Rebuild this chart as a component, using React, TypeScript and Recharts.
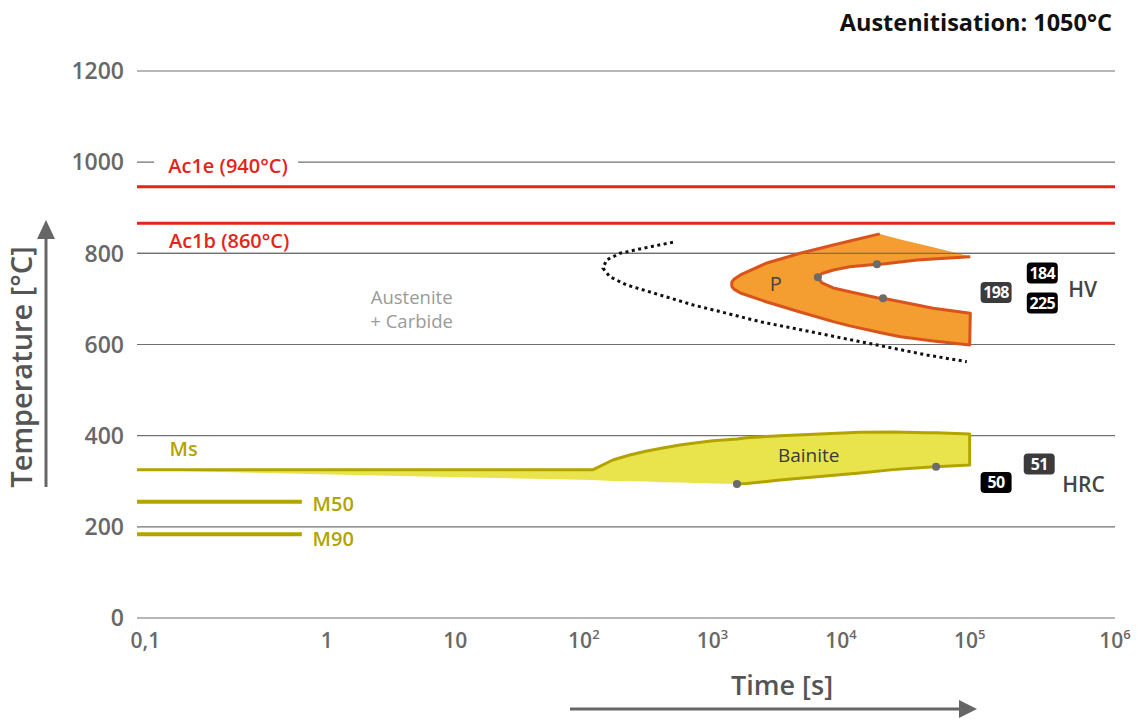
import React from 'react'
import {
  ComposedChart,
  XAxis,
  YAxis,
  CartesianGrid,
  Area,
  Line,
  Scatter,
  ReferenceLine,
} from 'recharts'

const FONT = '"Open Sans", "Noto Sans", sans-serif'

const RED = '#e3251b'
const OLIVE = '#b3a300'
const YELLOW = '#e9e44b'
const ORANGE = '#f49d30'
const ORANGE_EDGE = '#d8541c'
const GRID = '#707070'
const DOT = '#6b6b6b'
const TICK = '#686868'

// time axis is logarithmic, but the first decade (0,1-1) and the last one (10^5-10^6) are drawn wider
function toU(t: number) {
  const l = Math.log10(t)
  if (l < 0) return l * 1.41
  if (l > 5) return 5 + (l - 5) * 1.13
  return l
}

const X_MIN = 0.09
const X_MAX = 1e6
const xTickTimes = [0.1, 1, 10, 100, 1000, 10000, 100000, 1000000]
const yTicks = [0, 200, 400, 600, 800, 1000, 1200]
// grid levels that stay visible on top of the pearlite field
const gridOverPearlite = [600, 800]

// Ac1e / Ac1b
const ac1eTemp = 946
const ac1bTemp = 866

// martensite lines
const m50Temp = 255
const m90Temp = 184
const mLinesEnd = 0.73

// bainite (first points are the Ms line)
const bainiteTime = [0.09, 0.2, 3.7, 117, 168, 227, 309, 410, 558, 754, 1010, 1550, 1845, 3350, 14000, 25400, 46600, 54800, 100000]
const bainiteUpper = [325, 325, 325, 325, 346.6, 357.6, 366.4, 373, 379.6, 384.6, 389, 392.7, 395.6, 400, 407.4, 408.3, 406.5, 406.2, 403.7]
const bainiteLower = [325, 321.4, 311.5, 302.8, 300.6, 300.1, 299.5, 297.9, 297.3, 296, 295.1, 294, 295, 302.8, 318.1, 325.5, 330.5, 331.9, 335.7]
const bainiteDotTime = [1550, 54800]
const bainiteDotTemp = [294, 331.9]

// pearlite
const pearlOuterTime = [1410, 1419, 1470, 1650, 2650, 4800, 8700, 11700, 20000, 29000, 52000, 100000]
const pearlOuterLow = [732, 726.6, 721.4, 713, 693.3, 671.4, 650.1, 640.9, 626.2, 617.2, 607.7, 599]
const pearlOuterHigh = [732, 737.6, 742.9, 752.5, 778.9, 800.1, 818.3, 827.1, 842.6, 830.4, 813.3, 793.5]
const pearlInnerTime = [6600, 7100, 8700, 11700, 19000, 21200, 39000, 52000, 101000]
const pearlInnerLow = [747.5, 735.4, 724, 715.9, 702.5, 701.4, 686.5, 679.5, 668.5]
const pearlInnerHigh = [747.5, 755.8, 763.5, 770.7, 776, 776.6, 785.4, 787.6, 792.7]
const pearlDotTime = [6600, 19000, 21200]
const pearlDotTemp = [747.5, 776, 701.4]

// dotted curve (carbide precipitation)
const carbideTime = [493, 288, 191, 150, 141, 159, 215, 390, 709, 1290, 2340, 4260, 7740, 14100, 25500, 46400, 95000]
const carbideTemp = [824.3, 811.1, 800.1, 785.4, 767.2, 748.8, 730.6, 708.7, 686.7, 668.5, 650.1, 635.6, 620.9, 606.2, 591.7, 577, 562.3]

// hardness values
const hardnessLabels = ['198', '184', '225', '50', '51']
const hardnessTime = [152000, 316000, 316000, 152000, 301000]
const hardnessTemp = [714, 757, 691, 297, 338]

// text in the plot
const noteTexts = ['Ac1e (940°C)', 'Ac1b (860°C)', 'Ms', 'M50', 'M90', 'Austenite', '+ Carbide', 'P', 'Bainite', 'HV', 'HRC']
const noteTime = [0.286, 0.29, 0.136, 0.837, 0.837, 4.58, 4.58, 3100, 5600, 476000, 434000]
const noteTemp = [992, 827, 371, 250, 174, 704, 651, 733, 358, 720, 292]

const BOX_FILL: Record<string, string> = { '198': '#3b3b3b', '184': '#000', '225': '#000', '50': '#000', '51': '#3b3b3b' }

type NoteStyle = { fill: string; size: number; weight: number; anchor: 'start' | 'middle'; bg?: boolean }
const NOTE_STYLE: Record<string, NoteStyle> = {
  'Ac1e (940°C)': { fill: RED, size: 20, weight: 600, anchor: 'middle', bg: true },
  'Ac1b (860°C)': { fill: RED, size: 20, weight: 600, anchor: 'middle' },
  Ms: { fill: OLIVE, size: 20, weight: 600, anchor: 'start' },
  M50: { fill: OLIVE, size: 20, weight: 600, anchor: 'start' },
  M90: { fill: OLIVE, size: 20, weight: 600, anchor: 'start' },
  Austenite: { fill: '#9a9a9a', size: 18.5, weight: 500, anchor: 'middle' },
  '+ Carbide': { fill: '#9a9a9a', size: 18.5, weight: 500, anchor: 'middle' },
  P: { fill: '#444', size: 20, weight: 400, anchor: 'middle' },
  Bainite: { fill: '#3a3a3a', size: 19, weight: 400, anchor: 'middle' },
  HV: { fill: '#444', size: 21, weight: 600, anchor: 'start' },
  HRC: { fill: '#444', size: 21, weight: 600, anchor: 'start' },
}

const xTicks = xTickTimes.map(toU)

const bainiteArea = bainiteTime.map((t, i) => ({ u: toU(t), range: [bainiteLower[i], bainiteUpper[i]] }))
const bainiteEdge = [
  ...bainiteTime.map((t, i) => ({ u: toU(t), T: bainiteUpper[i] })),
  ...bainiteTime
    .map((t, i) => ({ t, u: toU(t), T: bainiteLower[i] }))
    .filter((p) => p.t >= bainiteDotTime[0])
    .reverse(),
]

const pearlOuterArea = pearlOuterTime.map((t, i) => ({ u: toU(t), range: [pearlOuterLow[i], pearlOuterHigh[i]] }))
const pearlInnerArea = pearlInnerTime.map((t, i) => ({ u: toU(t), range: [pearlInnerLow[i], pearlInnerHigh[i]] }))
const peakIdx = pearlOuterHigh.indexOf(Math.max(...pearlOuterHigh))
const pearlEdge = [
  ...pearlOuterTime.slice(0, peakIdx + 1).map((t, i) => ({ u: toU(t), T: pearlOuterHigh[i] })).reverse(),
  ...pearlOuterTime.map((t, i) => ({ u: toU(t), T: pearlOuterLow[i] })).slice(1),
  ...pearlInnerTime.map((t, i) => ({ u: toU(t), T: pearlInnerLow[i] })).reverse(),
  ...pearlInnerTime.map((t, i) => ({ u: toU(t), T: pearlInnerHigh[i] })).slice(1),
]

const carbideLine = carbideTime.map((t, i) => ({ u: toU(t), T: carbideTemp[i] }))
const m50Line = [X_MIN, mLinesEnd].map((t) => ({ u: toU(t), T: m50Temp }))
const m90Line = [X_MIN, mLinesEnd].map((t) => ({ u: toU(t), T: m90Temp }))

const dots = [
  ...pearlDotTime.map((t, i) => ({ u: toU(t), T: pearlDotTemp[i] })),
  ...bainiteDotTime.map((t, i) => ({ u: toU(t), T: bainiteDotTemp[i] })),
]
const hardness = hardnessLabels.map((label, i) => ({ label, u: toU(hardnessTime[i]), T: hardnessTemp[i] }))
const notes = noteTexts.map((label, i) => ({ label, u: toU(noteTime[i]), T: noteTemp[i] }))

function TimeTick({ x, y, payload }: any) {
  let idx = 0
  xTicks.forEach((v, i) => {
    if (Math.abs(v - payload.value) < Math.abs(xTicks[idx] - payload.value)) idx = i
  })
  const t = xTickTimes[idx]
  const exp = Math.round(Math.log10(t))
  return (
    <text x={x} y={y + 30} textAnchor="middle" fill={TICK} fontSize={21} fontWeight={600} fontFamily={FONT}>
      {exp >= 2 ? (
        <>
          <tspan>10</tspan>
          <tspan dy={-9} fontSize={13}>
            {exp}
          </tspan>
        </>
      ) : t < 1 ? (
        '0,1'
      ) : (
        String(t)
      )}
    </text>
  )
}

function TempTick({ x, y, payload }: any) {
  return (
    <text x={x} y={y} dy="0.36em" textAnchor="end" fill={TICK} fontSize={23} fontWeight={600} fontFamily={FONT}>
      {payload.value}
    </text>
  )
}

function DotShape({ cx, cy }: any) {
  return <circle cx={cx} cy={cy} r={4} fill={DOT} />
}

function HardnessBox({ cx, cy, payload }: any) {
  return (
    <g>
      <rect x={cx - 15.5} y={cy - 10.5} width={31} height={21} rx={4} fill={BOX_FILL[payload.label]} />
      <text
        x={cx}
        y={cy}
        dy="0.36em"
        textAnchor="middle"
        fill="#fff"
        fontSize={16}
        fontWeight={700}
        letterSpacing={-0.6}
        fontFamily={FONT}
      >
        {payload.label}
      </text>
    </g>
  )
}

function NoteShape({ cx, cy, payload }: any) {
  const s = NOTE_STYLE[payload.label]
  return (
    <g>
      {s.bg && <rect x={cx - 74} y={cy - 14} width={144} height={28} fill="#fff" />}
      <text
        x={cx}
        y={cy}
        dy="0.36em"
        textAnchor={s.anchor}
        fill={s.fill}
        fontSize={s.size}
        fontWeight={s.weight}
        fontFamily={FONT}
      >
        {payload.label}
      </text>
    </g>
  )
}

export default function App() {
  return (
    <div style={{ position: 'absolute', left: 0, top: 0, width: 1138, height: 720, background: '#fff' }}>
      <ComposedChart width={1138} height={720} margin={{ top: 71, right: 23, bottom: 72, left: 0 }}>
        <CartesianGrid vertical={false} stroke={GRID} strokeWidth={1.2} />
        <XAxis
          type="number"
          dataKey="u"
          domain={[toU(X_MIN), toU(X_MAX)]}
          ticks={xTicks}
          interval={0}
          allowDataOverflow
          axisLine={false}
          tickLine={false}
          tickSize={0}
          tickMargin={0}
          height={30}
          tick={<TimeTick />}
        />
        <YAxis
          type="number"
          domain={[0, 1200]}
          ticks={yTicks}
          interval={0}
          allowDataOverflow
          axisLine={false}
          tickLine={false}
          tickSize={0}
          tickMargin={13}
          width={137}
          tick={<TempTick />}
        />

        <Area data={pearlOuterArea} dataKey="range" type="linear" stroke="none" fill={ORANGE} fillOpacity={1} dot={false} activeDot={false} isAnimationActive={false} />
        <Area data={pearlInnerArea} dataKey="range" type="linear" stroke="none" fill="#fff" fillOpacity={1} dot={false} activeDot={false} isAnimationActive={false} />
        <Area data={bainiteArea} dataKey="range" type="linear" stroke="none" fill={YELLOW} fillOpacity={1} dot={false} activeDot={false} isAnimationActive={false} />

        {gridOverPearlite.map((v) => (
          <ReferenceLine key={v} y={v} stroke={GRID} strokeWidth={1.2} />
        ))}

        <Line data={carbideLine} dataKey="T" type="linear" stroke="#111" strokeWidth={3} strokeDasharray="3 3.5" dot={false} activeDot={false} isAnimationActive={false} />
        <Line data={bainiteEdge} dataKey="T" type="linear" stroke={OLIVE} strokeWidth={3} strokeLinejoin="round" dot={false} activeDot={false} isAnimationActive={false} />
        <Line data={m50Line} dataKey="T" type="linear" stroke={OLIVE} strokeWidth={4} dot={false} activeDot={false} isAnimationActive={false} />
        <Line data={m90Line} dataKey="T" type="linear" stroke={OLIVE} strokeWidth={4} dot={false} activeDot={false} isAnimationActive={false} />
        <Line data={pearlEdge} dataKey="T" type="linear" stroke={ORANGE_EDGE} strokeWidth={3} strokeLinejoin="round" dot={false} activeDot={false} isAnimationActive={false} />

        <ReferenceLine y={ac1eTemp} stroke={RED} strokeWidth={3} />
        <ReferenceLine y={ac1bTemp} stroke={RED} strokeWidth={3} />

        <Scatter data={dots} dataKey="T" shape={<DotShape />} isAnimationActive={false} />
        <Scatter data={notes} dataKey="T" shape={<NoteShape />} isAnimationActive={false} />
        <Scatter data={hardness} dataKey="T" shape={<HardnessBox />} isAnimationActive={false} />
      </ComposedChart>

      <svg width={1138} height={720} style={{ position: 'absolute', left: 0, top: 0, pointerEvents: 'none' }}>
        <text x={1112} y={31} textAnchor="end" fill="#111" fontSize={23.5} fontWeight={700} fontFamily={FONT}>
          Austenitisation: 1050°C
        </text>
        <text x={782} y={695} textAnchor="middle" fill="#555" fontSize={27} fontWeight={600} fontFamily={FONT}>
          Time [s]
        </text>
        <line x1={570} y1={709} x2={962} y2={709} stroke="#666" strokeWidth={3} />
        <polygon points="977,709 959,700 959,718" fill="#666" />
        <text
          x={32}
          y={367}
          transform="rotate(-90 32 367)"
          textAnchor="middle"
          fill="#555"
          fontSize={29}
          fontWeight={600}
          fontFamily={FONT}
        >
          Temperature [°C]
        </text>
        <line x1={46} y1={487} x2={46} y2={236} stroke="#666" strokeWidth={3} />
        <polygon points="46,220 37,239 55,239" fill="#666" />
      </svg>
    </div>
  )
}
